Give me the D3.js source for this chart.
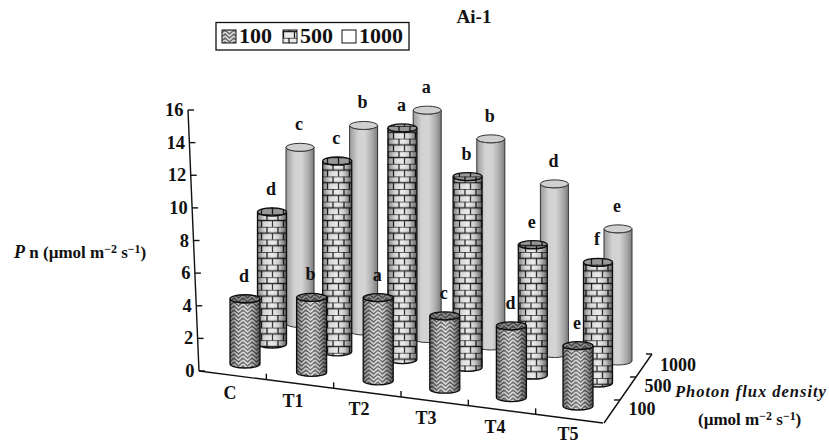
<!DOCTYPE html>
<html>
<head>
<meta charset="utf-8">
<script src="https://cdn.jsdelivr.net/npm/d3@7"></script>
<style>
  html, body { margin: 0; padding: 0; background: #fff; }
  text { font-family: "Liberation Serif", serif; font-weight: bold; fill: #111; }
</style>
</head>
<body>
<svg id="chart" width="829" height="445"></svg>
<script>
// Data
var categories = ["C", "T1", "T2", "T3", "T4", "T5"];
var levels = ["100", "500", "1000"];
var values100 = [4.0, 4.6, 5.1, 4.5, 4.4, 3.7];
var values500 = [8.1, 11.7, 14.2, 11.7, 8.0, 7.4];
var values1000 = [10.8, 12.6, 14.0, 12.7, 10.4, 8.1];
var letters100 = ["d", "b", "a", "c", "d", "e"];
var letters500 = ["d", "c", "a", "b", "e", "f"];
var letters1000 = ["c", "b", "a", "b", "d", "e"];
var yTicks = [0, 2, 4, 6, 8, 10, 12, 14, 16];

var svg = d3.select("#chart");
var defs = svg.append("defs");

// Scales. The floor is drawn in perspective so each row has its own x and y scale
var z = d3.scaleLinear().domain([0, 16]).range([0, 261]);
var yAxisX = d3.scaleLinear().domain([0, 16]).range([199, 188]);
var catIdx = d3.scalePoint().domain(categories).range([0, 5]);
var rowX = {
  "100": d3.scaleLinear().domain([0, 5]).range([245, 578]),
  "500": d3.scaleLinear().domain([0, 5]).range([272, 598]),
  "1000": d3.scaleLinear().domain([0, 5]).range([300, 618])
};
var rowY = {
  "100": d3.scaleLinear().domain([0, 5]).range([364, 406]),
  "500": d3.scaleLinear().domain([0, 5]).range([344, 383]),
  "1000": d3.scaleLinear().domain([0, 5]).range([323.5, 361])
};
var floorX = d3.scaleLinear().domain([0, 6]).range([199, 603]);
var floorY = d3.scaleLinear().domain([0, 6]).range([371, 423]);
var depthX = d3.scaleLinear().domain([0, 3]).range([604, 652]);
var depthY = d3.scaleLinear().domain([0, 3]).range([423, 354]);
// label spots are uneven in the original, so these are ordinal
var catLabelX = d3.scaleOrdinal().domain(categories).range([230, 293, 359, 426, 495, 568]);
var catLabelY = d3.scaleOrdinal().domain(categories).range([399, 407, 415, 424, 433, 440]);
var levelLabelX = d3.scaleOrdinal().domain(levels).range([642, 658, 678]);
var levelLabelY = d3.scaleOrdinal().domain(levels).range([415, 392, 371]);

// textures
var weave = defs.append("pattern").attr("id", "weave")
  .attr("patternUnits", "userSpaceOnUse").attr("width", 9).attr("height", 4);
weave.append("rect").attr("width", 9).attr("height", 4).attr("fill", "#6a6a6a");
weave.append("path").attr("d", "M0,-4 L4.5,0 L9,-4 M0,0 L4.5,4 L9,0 M0,4 L4.5,8 L9,4")
  .attr("fill", "none").attr("stroke", "#dedede").attr("stroke-width", 1.6);

var brick = defs.append("pattern").attr("id", "brick")
  .attr("patternUnits", "userSpaceOnUse").attr("width", 11).attr("height", 12.6);
brick.append("rect").attr("width", 11).attr("height", 12.6).attr("fill", "#eaeaea");
brick.append("path").attr("d", "M0,0 H11 M0,6.3 H11 M3,0 V6.3 M8.5,6.3 V12.6")
  .attr("fill", "none").attr("stroke", "#222").attr("stroke-width", 1.3);

function addGradient(id, stops) {
  var g = defs.append("linearGradient").attr("id", id).attr("x1", 0).attr("x2", 1).attr("y1", 0).attr("y2", 0);
  stops.forEach(function (s) {
    g.append("stop").attr("offset", s[0]).attr("stop-color", s[1]).attr("stop-opacity", s[2]);
  });
}
addGradient("shade", [[0, "#000", 0.45], [0.25, "#000", 0.08], [0.5, "#fff", 0.1], [0.75, "#000", 0.15], [1, "#000", 0.6]]);
addGradient("plain", [[0, "#9a9a9a", 1], [0.3, "#d2d2d2", 1], [0.55, "#d4d4d4", 1], [0.8, "#acacac", 1], [1, "#7c7c7c", 1]]);

defs.append("filter").attr("id", "soft").append("feGaussianBlur").attr("stdDeviation", 0.4);

// axes
var axes = svg.append("g").attr("stroke", "#111").attr("stroke-width", 1.4).attr("fill", "none");
var line = d3.line();
axes.append("path").attr("d", line([[yAxisX(0), 371], [yAxisX(16), 371 - z(16)]]));
axes.append("path").attr("d", line([[floorX(0), floorY(0)], [floorX(6), floorY(6)]]));
axes.append("path").attr("d", line([[depthX(0), depthY(0)], [depthX(3), depthY(3)]]));

yTicks.forEach(function (t) {
  var x = yAxisX(t), y = 371 - z(t);
  axes.append("path").attr("d", line([[x, y], [x + 6, y]]));
  svg.append("text").attr("x", x - 4.5).attr("y", y + 6)
    .attr("text-anchor", "end").attr("font-size", 18.5).text(t);
});

d3.range(1, 6).forEach(function (i) {
  axes.append("path").attr("d", line([[floorX(i), floorY(i)], [floorX(i), floorY(i) - 6]]));
});
d3.range(1, 4).forEach(function (i) {
  axes.append("path").attr("d", line([[depthX(i), depthY(i)], [depthX(i) - 6, depthY(i)]]));
});

categories.forEach(function (c) {
  svg.append("text").attr("x", catLabelX(c)).attr("y", catLabelY(c))
    .attr("text-anchor", "middle").attr("font-size", 18).text(c);
});
levels.forEach(function (l) {
  svg.append("text").attr("x", levelLabelX(l)).attr("y", levelLabelY(l))
    .attr("text-anchor", "middle").attr("font-size", 18).text(l);
});

// cylinders, back row first
var ry = 4;
function cylinder(level, values, letters, fill, stroke, r, sw) {
  var g = svg.append("g");
  categories.forEach(function (c, i) {
    var k = catIdx(c);
    var x = rowX[level](k), yb = rowY[level](k), yt = yb - z(values[i]);
    var body = "M" + (x - r) + "," + yt + " L" + (x - r) + "," + yb +
      " A" + r + "," + ry + " 0 0 0 " + (x + r) + "," + yb +
      " L" + (x + r) + "," + yt +
      " A" + r + "," + ry + " 0 0 1 " + (x - r) + "," + yt + " Z";
    var cyl = g.append("g").attr("filter", "url(#soft)");
    cyl.append("path").attr("d", body).attr("fill", fill);
    if (fill != "url(#plain)") cyl.append("path").attr("d", body).attr("fill", "url(#shade)");
    cyl.append("path").attr("d", body).attr("fill", "none").attr("stroke", stroke).attr("stroke-width", sw);
    cyl.append("ellipse").attr("cx", x).attr("cy", yt).attr("rx", r).attr("ry", ry)
      .attr("fill", fill == "url(#plain)" ? "#d0d0d0" : fill)
      .attr("stroke", stroke).attr("stroke-width", sw);
    // textured caps read darker than the body
    if (fill != "url(#plain)") {
      cyl.append("ellipse").attr("cx", x).attr("cy", yt).attr("rx", r).attr("ry", ry)
        .attr("fill", "#000").attr("opacity", 0.35);
    }
    g.append("text").attr("x", x - 1).attr("y", yt - 17)
      .attr("text-anchor", "middle").attr("font-size", 18).text(letters[i]);
  });
}
cylinder("1000", values1000, letters1000, "url(#plain)", "#333", 14, 1);
cylinder("500", values500, letters500, "url(#brick)", "#111", 14.5, 1.3);
cylinder("100", values100, letters100, "url(#weave)", "#111", 15, 1.3);

// title and legend
svg.append("text").attr("x", 474).attr("y", 23).attr("text-anchor", "middle").attr("font-size", 19).text("Ai-1");
svg.append("rect").attr("x", 216).attr("y", 22.5).attr("width", 193).attr("height", 27.5)
  .attr("fill", "#fff").attr("stroke", "#111").attr("stroke-width", 1.3);

var legendX = d3.scaleOrdinal().domain(levels).range([222, 283, 342]);
var legendFill = d3.scaleOrdinal().domain(levels).range(["url(#weave)", "url(#brick)", "#fff"]);
levels.forEach(function (l) {
  svg.append("rect").attr("x", legendX(l)).attr("y", 30).attr("width", 14).attr("height", 13)
    .attr("fill", legendFill(l)).attr("stroke", "#111");
  svg.append("text").attr("x", legendX(l) + 17).attr("y", 43).attr("font-size", 22).text(l);
});

// axis titles
function unitText(t) {
  t.append("tspan").text("(\u00b5mol m");
  t.append("tspan").attr("dy", -5).attr("font-size", "70%").text("\u22122");
  t.append("tspan").attr("dy", 5).text(" s");
  t.append("tspan").attr("dy", -5).attr("font-size", "70%").text("\u22121");
  t.append("tspan").attr("dy", 5).text(")");
}
var pn = svg.append("text").attr("x", 14).attr("y", 258).attr("font-size", 17);
pn.append("tspan").attr("font-style", "italic").attr("font-size", 18).text("P");
pn.append("tspan").text(" n ");
unitText(pn);

svg.append("text").attr("x", 675).attr("y", 397).attr("font-size", 16.5)
  .attr("font-style", "italic").attr("letter-spacing", 1).text("Photon flux density");
var pfd = svg.append("text").attr("x", 698).attr("y", 425).attr("font-size", 17);
unitText(pfd);
</script>
</body>
</html>
